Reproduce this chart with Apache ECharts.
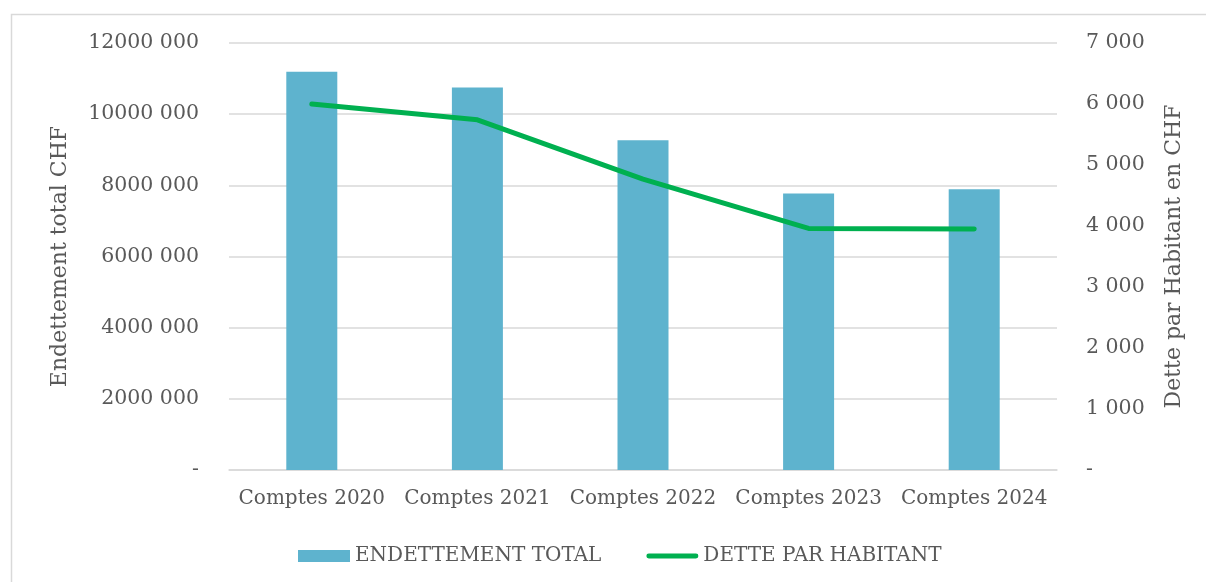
<!DOCTYPE html>
<html>
<head>
<meta charset="utf-8">
<script src="https://cdn.jsdelivr.net/npm/echarts@6/dist/echarts.min.js"></script>
<style>
html,body{margin:0;padding:0;background:#fff;}
#c{width:1206px;height:582px;}
</style>
</head>
<body>
<div id="c"></div>
<script>
const categories = ['Comptes 2020', 'Comptes 2021', 'Comptes 2022', 'Comptes 2023', 'Comptes 2024'];
const endettementTotal = [11190000, 10750000, 9270000, 7770000, 7890000];
const detteParHabitant = [6000, 5740, 4770, 3960, 3950];
const leftTicks = { min: 0, max: 12000000, interval: 2000000 };
const rightTicks = { min: 0, max: 7000, interval: 1000 };

const FONT = '"DejaVu Serif", "Liberation Serif", serif';
const TXT = '#595959';

function fmt(v) {
  if (v === 0) return '-';
  const th = Math.floor(v / 1000);
  const rest = String(v % 1000).padStart(3, '0');
  return th + ' ' + rest;
}

// thin stripe centred in the legend icon box (tiny corner points keep the box size)
const LINE_ICON = 'path://M0,0L0.01,0L0,0.01Z M2.5,3.5 L51.5,3.5 A2.5,2.5 0 0 1 51.5,8.5 L2.5,8.5 A2.5,2.5 0 0 1 2.5,3.5 Z M54,12L53.99,12L54,11.99Z';

const chart = echarts.init(document.getElementById('c'));
chart.setOption({
  animation: false,
  backgroundColor: '#fff',
  textStyle: { fontFamily: FONT, color: TXT },
  graphic: [{
    type: 'rect', silent: true,
    shape: { x: 11.5, y: 14.5, width: 1300, height: 700 },
    style: { fill: 'none', stroke: '#D9D9D9', lineWidth: 1.5 }
  }],
  grid: { left: 229, right: 149, top: 43, bottom: 112 },
  legend: {
    left: 293, top: 541,
    itemWidth: 52, itemHeight: 12, itemGap: 45,
    textStyle: { fontFamily: FONT, fontSize: 20, color: TXT },
    data: [
      { name: 'ENDETTEMENT TOTAL', icon: 'rect' },
      { name: 'DETTE PAR HABITANT', icon: LINE_ICON, itemStyle: { color: '#00B050' } }
    ]
  },
  xAxis: {
    type: 'category',
    data: categories,
    axisLine: { lineStyle: { color: '#D9D9D9', width: 1.5 } },
    axisTick: { show: false },
    axisLabel: { interval: 0, fontFamily: FONT, fontSize: 20, color: TXT, margin: 19 }
  },
  yAxis: [{
    type: 'value',
    min: leftTicks.min, max: leftTicks.max, interval: leftTicks.interval,
    name: 'Endettement total CHF',
    nameLocation: 'middle', nameGap: 158,
    nameTextStyle: { fontFamily: FONT, fontSize: 22, color: TXT },
    axisLine: { show: false }, axisTick: { show: false },
    splitLine: { lineStyle: { color: '#D9D9D9', width: 1.5 } },
    axisLabel: { fontFamily: FONT, fontSize: 20.5, color: TXT, margin: 30, formatter: fmt }
  }, {
    type: 'value',
    min: rightTicks.min, max: rightTicks.max, interval: rightTicks.interval,
    name: 'Dette par Habitant en CHF',
    nameLocation: 'middle', nameGap: 106, nameRotate: 90,
    nameTextStyle: { fontFamily: FONT, fontSize: 22, color: TXT },
    axisLine: { show: false }, axisTick: { show: false },
    splitLine: { show: false },
    axisLabel: { fontFamily: FONT, fontSize: 20.5, color: TXT, margin: 29, formatter: fmt }
  }],
  series: [{
    name: 'ENDETTEMENT TOTAL',
    type: 'bar',
    data: endettementTotal,
    barWidth: 51,
    itemStyle: { color: '#5EB3CE' }
  }, {
    name: 'DETTE PAR HABITANT',
    type: 'line',
    yAxisIndex: 1,
    data: detteParHabitant,
    symbol: 'none',
    lineStyle: { color: '#00B050', width: 5, cap: 'round', join: 'round' },
    itemStyle: { color: '#00B050' }
  }]
});
</script>
</body>
</html>
